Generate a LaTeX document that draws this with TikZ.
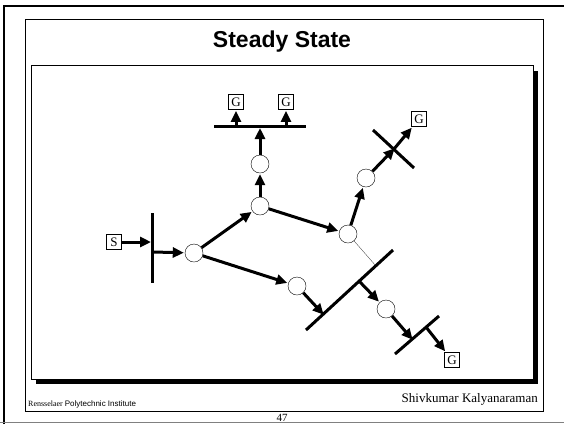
\documentclass[tikz,border=0pt]{standalone}
\usepackage{fontspec}
\setmainfont{Liberation Serif}
\setsansfont{Liberation Sans}
\usetikzlibrary{arrows.meta}

\begin{document}
\begin{tikzpicture}[x=1pt,y=-1pt,
	router/.style={draw,circle,thin,fill=white,minimum size=18pt,inner sep=0pt},
	host/.style={draw,thick,fill=white,font=\fontsize{13}{13}\selectfont,minimum size=15pt,inner sep=0pt},
	flow/.style={line width=3pt,-{Triangle[length=11pt,width=10pt]},shorten >=1pt},
	bar/.style={line width=3pt}]
	\useasboundingbox (0,0) rectangle (564,424);

	% slide frames
	\draw[line width=2pt] (4,424) -- (4,6) -- (566,6);
	\draw[gray] (0,422.5) -- (564,422.5);
	\draw (25,19) rectangle (543,411);

	% title
	\node[font=\sffamily\bfseries\fontsize{23}{23}\selectfont] (title) at (282,42) {Steady State};

	% content box with shadow
	\fill (36,71) rectangle (538,384);
	\draw[fill=white] (31,65) rectangle (533,379);

	% sender and first bar
	\node[host] (S) at (114,242) {S};
	\draw[bar] (152,213) -- (152,283);
	\coordinate (b1in) at (152,242);
	\coordinate (b1out) at (153,252);

	% routers
	\node[router] (A) at (194,253) {};
	\node[router] (B) at (260,206) {};
	\node[router] (C) at (260,164) {};
	\node[router] (D) at (348,234) {};
	\node[router] (E) at (366,178) {};
	\node[router] (F) at (297,286) {};
	\node[router] (H) at (386,309) {};

	% top bar
	\draw[bar] (214,126) -- (306,126);
	\coordinate (b2in) at (260,127);
	\coordinate (b2l) at (236,125);
	\coordinate (b2r) at (286,125);

	% crossing bar
	\draw[bar] (373,130) -- (414,168);
	\coordinate (b3) at (394,149);

	% big bar and small bar
	\draw[bar] (306,330) -- (393,250);
	\coordinate (b4in) at (323,314);
	\coordinate (b4out) at (359,281);
	\coordinate (b4thin) at (376,266);
	\draw[bar] (395,354) -- (439,316);
	\coordinate (b5in) at (412,339);
	\coordinate (b5out) at (426,327);

	% receivers
	\node[host] (G1) at (236,102) {G};
	\node[host] (G2) at (286,102) {G};
	\node[host] (G3) at (419,119) {G};
	\node[host] (G4) at (452,360) {G};

	% flows
	\draw[flow] (S) -- (b1in);
	\draw[flow] (b1out) -- (A);
	\draw[flow] (A) -- (B);
	\draw[flow] (B) -- (C);
	\draw[flow] (C) -- (b2in);
	\draw[flow] (b2l) -- (G1);
	\draw[flow] (b2r) -- (G2);
	\draw[flow] (B) -- (D);
	\draw[flow] (D) -- (E);
	\draw[flow,shorten >=-1pt] (E) -- (b3);
	\draw[flow] (b3) -- (G3);
	\draw[flow] (A) -- (F);
	\draw[flow,shorten >=-1pt] (F) -- (b4in);
	\draw[flow] (b4out) -- (H);
	\draw[flow,shorten >=-1pt] (H) -- (b5in);
	\draw[flow] (b5out) -- (G4);
	\draw[very thin] (D) -- (b4thin);

	% footer
	\node[anchor=base west,inner sep=0pt] (inst) at (28,406) {\fontsize{8}{8}\selectfont Rensselaer \sffamily Polytechnic Institute};
	\node[anchor=base east,inner sep=0pt,font=\fontsize{13}{13}\selectfont] (author) at (538,402) {Shivkumar Kalyanaraman};
	\node[font=\fontsize{11}{11}\selectfont,inner sep=0pt] (page) at (282,418) {47};
\end{tikzpicture}
\end{document}
